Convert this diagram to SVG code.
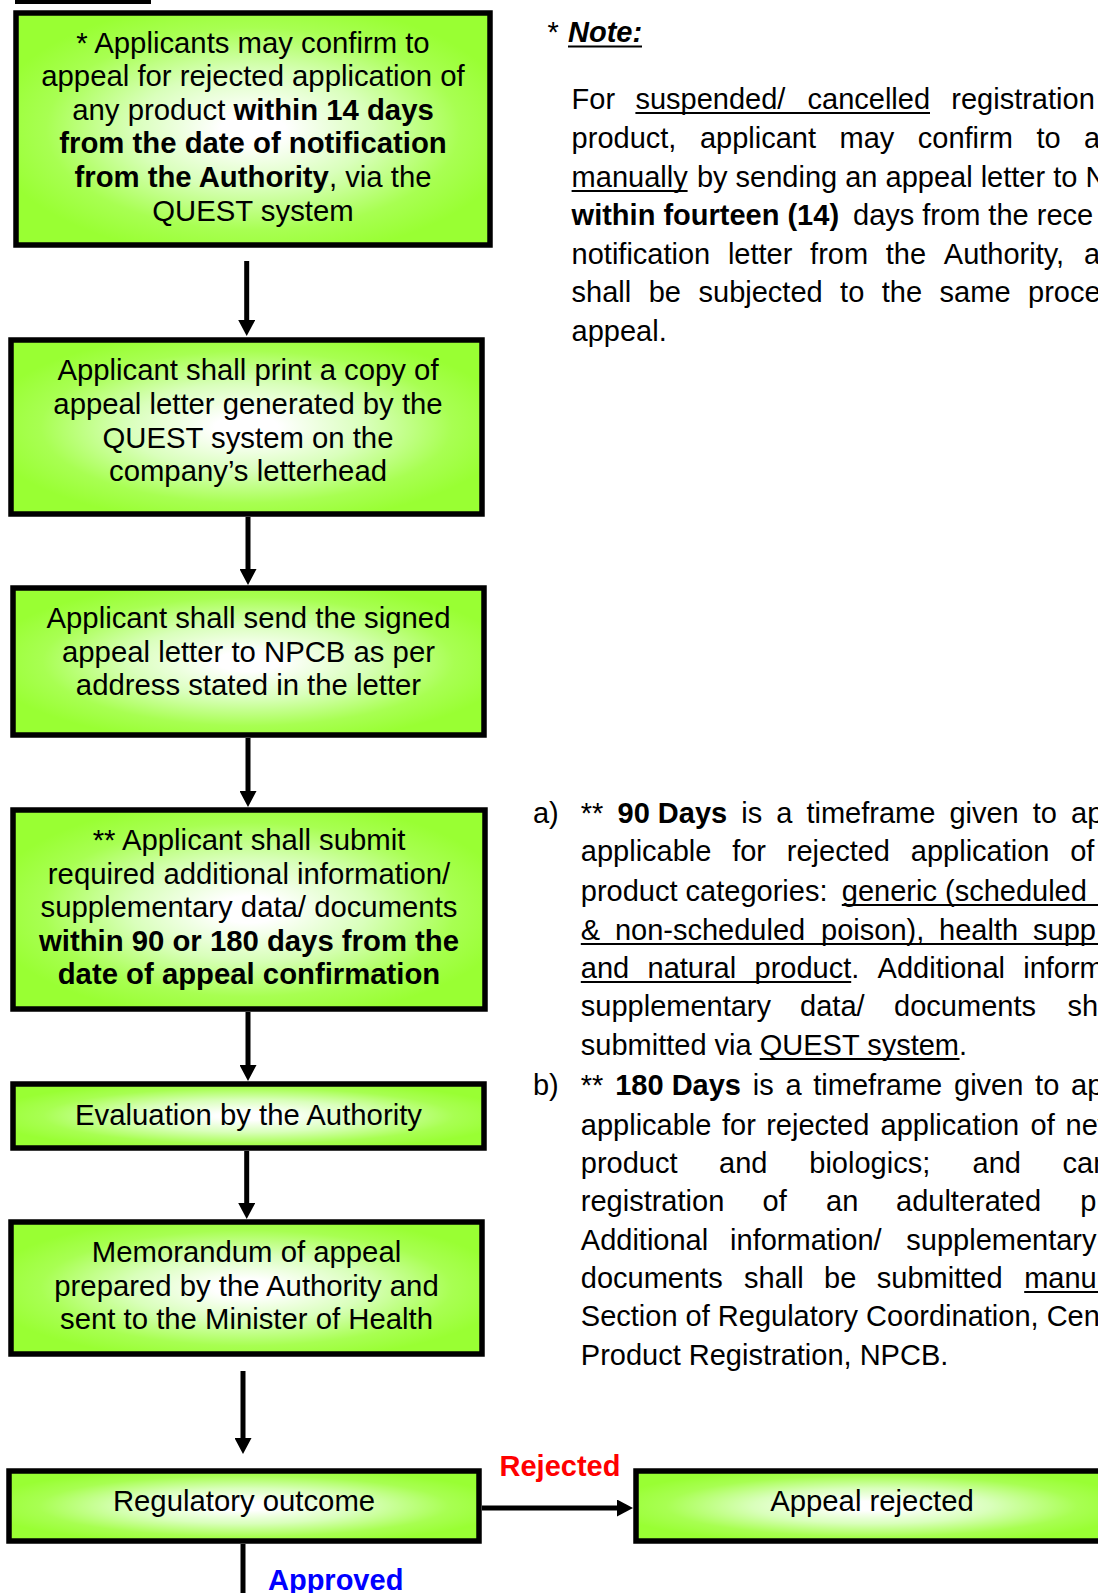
<svg xmlns="http://www.w3.org/2000/svg" width="1098" height="1593" viewBox="0 0 1098 1593">
<style>
.t{font-family:"Liberation Sans",Arial,sans-serif;font-size:29px;fill:#000}
.bx{font-size:29.3px}
.c{text-anchor:middle}
.b{font-weight:bold}
.box{fill:url(#g);stroke:#000;stroke-width:5.5}
.ln{stroke:#000;stroke-width:5;fill:none}
.ul{stroke:#000;stroke-width:2.2}
</style>
<defs>
<radialGradient id="g" cx="0.5" cy="0.5" r="0.56">
<stop offset="0" stop-color="#ffffff"/>
<stop offset="0.12" stop-color="#ffffff"/>
<stop offset="0.45" stop-color="#d9ffbb"/>
<stop offset="0.78" stop-color="#a8ff52"/>
<stop offset="1" stop-color="#99ff33"/>
</radialGradient>
<marker id="ah" markerUnits="userSpaceOnUse" markerWidth="16" markerHeight="17" viewBox="0 0 16 17" refX="6" refY="8.5" orient="auto">
<path d="M0,0 L16,8.5 L0,17 z" fill="#000"/>
</marker>
</defs>
<rect x="15" y="0" width="136" height="4" fill="#000"/>

<g id="connectors">
<line class="ln" x1="246.7" y1="261" x2="246.7" y2="326" marker-end="url(#ah)"/>
<line class="ln" x1="248" y1="517" x2="248" y2="575" marker-end="url(#ah)"/>
<line class="ln" x1="248" y1="738" x2="248" y2="797" marker-end="url(#ah)"/>
<line class="ln" x1="248" y1="1012" x2="248" y2="1071" marker-end="url(#ah)"/>
<line class="ln" x1="246.7" y1="1151" x2="246.7" y2="1209" marker-end="url(#ah)"/>
<line class="ln" x1="243" y1="1371" x2="243" y2="1444" marker-end="url(#ah)"/>
<line class="ln" x1="482" y1="1508" x2="623" y2="1508" stroke-width="6" marker-end="url(#ah)"/>
<line class="ln" x1="243" y1="1544" x2="243" y2="1593"/>
<text class="t b c" x="560" y="1476" style="fill:#ff0000">Rejected</text>
<text class="t b" x="268" y="1590" style="fill:#0000ff">Approved</text>
</g>

<g id="n1">
<rect class="box" x="16" y="13" width="474" height="232"/>
<text class="t bx c" x="253" y="52.5">* Applicants may confirm to</text>
<text class="t bx c" x="253" y="86.1">appeal for rejected application of</text>
<text class="t bx c" x="253" y="119.7">any product <tspan class="b">within 14 days</tspan></text>
<text class="t bx c b" x="253" y="153.3">from the date of notification</text>
<text class="t bx c" x="253" y="186.9"><tspan class="b">from the Authority</tspan>, via the</text>
<text class="t bx c" x="253" y="220.5">QUEST system</text>
</g>

<g id="n2">
<rect class="box" x="11" y="340" width="471" height="174"/>
<text class="t bx c" x="248" y="380">Applicant shall print a copy of</text>
<text class="t bx c" x="248" y="414">appeal letter generated by the</text>
<text class="t bx c" x="248" y="447.5">QUEST system on the</text>
<text class="t bx c" x="248" y="481">company’s letterhead</text>
</g>

<g id="n3">
<rect class="box" x="13" y="588" width="471" height="147"/>
<text class="t bx c" x="248.5" y="628">Applicant shall send the signed</text>
<text class="t bx c" x="248.5" y="662">appeal letter to NPCB as per</text>
<text class="t bx c" x="248.5" y="695">address stated in the letter</text>
</g>

<g id="n4">
<rect class="box" x="13" y="810" width="472" height="199"/>
<text class="t bx c" x="249" y="850">** Applicant shall submit</text>
<text class="t bx c" x="249" y="884">required additional information/</text>
<text class="t bx c" x="249" y="917">supplementary data/ documents</text>
<text class="t bx c b" x="249" y="950.5">within 90 or 180 days from the</text>
<text class="t bx c b" x="249" y="984">date of appeal confirmation</text>
</g>

<g id="n5">
<rect class="box" x="13" y="1084" width="471" height="64"/>
<text class="t bx c" x="248.5" y="1125">Evaluation by the Authority</text>
</g>

<g id="n6">
<rect class="box" x="11" y="1222" width="471" height="132"/>
<text class="t bx c" x="246.5" y="1262">Memorandum of appeal</text>
<text class="t bx c" x="246.5" y="1295.5">prepared by the Authority and</text>
<text class="t bx c" x="246.5" y="1329">sent to the Minister of Health</text>
</g>

<g id="n7">
<rect class="box" x="9" y="1471" width="470" height="70"/>
<text class="t bx c" x="244" y="1510.5">Regulatory outcome</text>
</g>

<g id="n8">
<rect class="box" x="636" y="1471" width="472" height="70"/>
<text class="t bx c" x="872" y="1511">Appeal rejected</text>
</g>

<g id="note">
<text class="t" x="547.6" y="42">*</text>
<text class="t b" x="568" y="42" font-style="italic">Note:</text>
<line class="ul" x1="568" y1="46.5" x2="642" y2="46.5"/>
<text class="t" y="109"><tspan x="571.6">For</tspan><tspan x="635.4">suspended/</tspan><tspan x="807.5">cancelled</tspan><tspan x="951.3">registration</tspan></text>
<line class="ul" x1="635.4" y1="113" x2="930" y2="113"/>
<text class="t" y="148"><tspan x="571.6">product,</tspan><tspan x="699.9">applicant</tspan><tspan x="839.5">may</tspan><tspan x="917.8">confirm</tspan><tspan x="1036.5">to</tspan><tspan x="1084">a</tspan></text>
<text class="t" y="187"><tspan x="571.6">manually</tspan><tspan x="696.9">by sending an appeal letter to N</tspan></text>
<line class="ul" x1="571.6" y1="191" x2="687.6" y2="191"/>
<text class="t" y="225"><tspan x="571.6" class="b">within fourteen (14)</tspan><tspan x="853">days from the rece</tspan></text>
<text class="t" y="264"><tspan x="571.6">notification</tspan><tspan x="727.9">letter</tspan><tspan x="810.1">from</tspan><tspan x="885.8">the</tspan><tspan x="943.8">Authority,</tspan><tspan x="1084">a</tspan></text>
<text class="t" y="302"><tspan x="571.6">shall</tspan><tspan x="648.7">be</tspan><tspan x="698.5">subjected</tspan><tspan x="840.1">to</tspan><tspan x="881.8">the</tspan><tspan x="939.6">same</tspan><tspan x="1028">proce</tspan></text>
<text class="t" x="571.6" y="341">appeal.</text>
</g>

<g id="days">
<text class="t" y="823"><tspan x="532.9">a)</tspan><tspan x="580.8">**</tspan><tspan x="617.5" class="b">90 Days</tspan><tspan x="741.2">is</tspan><tspan x="776.2">a</tspan><tspan x="806.4">timeframe</tspan><tspan x="949.4">given</tspan><tspan x="1032.8">to</tspan><tspan x="1071.1">ap</tspan></text>
<text class="t" y="861"><tspan x="580.8">applicable</tspan><tspan x="732.2">for</tspan><tspan x="786.8">rejected</tspan><tspan x="910.8">application</tspan><tspan x="1070.2">of</tspan></text>
<text class="t" y="901"><tspan x="580.8">product categories:</tspan><tspan x="841.8">generic</tspan><tspan x="945">(scheduled</tspan></text>
<line class="ul" x1="841.8" y1="905" x2="1098" y2="905"/>
<text class="t" y="940"><tspan x="580.8">&amp;</tspan><tspan x="614.9">non-scheduled</tspan><tspan x="821.1">poison),</tspan><tspan x="939.1">health</tspan><tspan x="1033">supp</tspan></text>
<line class="ul" x1="580.8" y1="944" x2="1098" y2="944"/>
<text class="t" y="978"><tspan x="580.8">and</tspan><tspan x="647.5">natural</tspan><tspan x="754.5">product</tspan><tspan>.</tspan><tspan x="877.6">Additional</tspan><tspan x="1023.2">inform</tspan></text>
<line class="ul" x1="580.8" y1="982" x2="851.2" y2="982"/>
<text class="t" y="1016"><tspan x="580.8">supplementary</tspan><tspan x="800.1">data/</tspan><tspan x="894.1">documents</tspan><tspan x="1067.4">sha</tspan></text>
<text class="t" x="580.8" y="1055">submitted via QUEST system.</text>
<line class="ul" x1="759.7" y1="1059" x2="959.5" y2="1059"/>

<text class="t" y="1095"><tspan x="532.9">b)</tspan><tspan x="580.8">**</tspan><tspan x="615.2" class="b">180 Days</tspan><tspan x="752.7">is</tspan><tspan x="785.4">a</tspan><tspan x="813.3">timeframe</tspan><tspan x="954">given</tspan><tspan x="1035.1">to</tspan><tspan x="1071.1">ap</tspan></text>
<text class="t" y="1135"><tspan x="580.8">applicable</tspan><tspan x="722">for</tspan><tspan x="766.2">rejected</tspan><tspan x="880.5">application</tspan><tspan x="1030.5">of</tspan><tspan x="1065.5">new</tspan></text>
<text class="t" y="1173"><tspan x="580.8">product</tspan><tspan x="719">and</tspan><tspan x="809.3">biologics;</tspan><tspan x="972.6">and</tspan><tspan x="1062.6">can</tspan></text>
<text class="t" y="1211"><tspan x="580.8">registration</tspan><tspan x="762.5">of</tspan><tspan x="826">an</tspan><tspan x="896">adulterated</tspan><tspan x="1080.3">p</tspan></text>
<text class="t" y="1250"><tspan x="580.8">Additional</tspan><tspan x="730.1">information/</tspan><tspan x="906.3">supplementary</tspan></text>
<text class="t" y="1288"><tspan x="580.8">documents</tspan><tspan x="744.1">shall</tspan><tspan x="824.1">be</tspan><tspan x="876.8">submitted</tspan><tspan x="1024.2">manu</tspan></text>
<line class="ul" x1="1024.2" y1="1292" x2="1098" y2="1292"/>
<text class="t" x="580.8" y="1326">Section of Regulatory Coordination, Cen</text>
<text class="t" x="580.8" y="1365">Product Registration, NPCB.</text>
</g>
</svg>
